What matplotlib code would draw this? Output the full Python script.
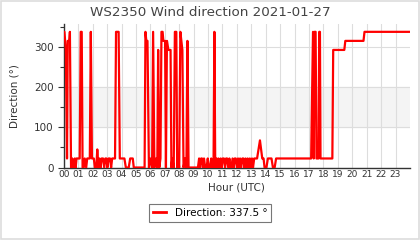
import matplotlib
matplotlib.use("Agg")
import matplotlib.pyplot as plt
from matplotlib.lines import Line2D
from matplotlib.patches import Rectangle

title = "WS2350 Wind direction 2021-01-27"
ylabel = "Direction (°)"
xlabel = "Hour (UTC)"
legend_label = "Direction: 337.5 °"
hour_labels = ["%02d" % h for h in range(24)]

hours = [
    0.00, 0.04, 0.14, 0.22, 0.27, 0.38, 0.42, 0.50, 0.58, 0.63, 0.70, 0.76, 0.82, 0.88, 0.96, 1.02,
    1.10, 1.17, 1.24, 1.30, 1.38, 1.45, 1.55, 1.62, 1.72, 1.80, 1.87, 1.95, 2.00,
    2.08, 2.15, 2.25, 2.32, 2.40, 2.47, 2.55, 2.62, 2.72, 2.80, 2.88, 2.95, 3.02, 3.10, 3.20,
    3.28, 3.35, 3.45, 3.55,
    3.62, 3.80, 3.88, 4.20, 4.30, 4.50, 4.60, 4.78, 4.85, 5.60,
    5.66, 5.72, 5.80, 5.90, 6.00, 6.12, 6.19, 6.28, 6.40, 6.48, 6.54, 6.62, 6.70, 6.77, 6.85,
    6.90, 7.02, 7.08, 7.15, 7.25, 7.40, 7.46, 7.52, 7.62, 7.70, 7.80, 7.86, 7.92, 8.00, 8.08,
    8.15, 8.22, 8.30, 8.40, 8.50, 8.57, 8.65, 9.20,
    9.30, 9.38, 9.45, 9.52, 9.58, 9.65, 9.72, 9.80, 9.90, 9.98, 10.05, 10.15, 10.22, 10.30,
    10.38, 10.44, 10.50, 10.58, 10.65, 10.72, 10.80, 10.88, 10.95, 11.02, 11.10, 11.18, 11.25,
    11.32, 11.40, 11.48, 11.55, 11.62, 11.70, 11.78, 11.85, 11.92, 12.00, 12.08, 12.15, 12.22,
    12.30, 12.38, 12.45, 12.52, 12.60, 12.68, 12.75, 12.82, 12.90, 12.98, 13.05, 13.12, 13.20,
    13.30, 13.40, 13.50, 13.60, 13.68, 13.76, 13.85, 13.92, 14.05, 14.15, 14.40, 14.50, 14.62,
    14.72, 14.82,
    17.15, 17.28, 17.33, 17.38, 17.46, 17.52, 17.66, 17.71, 17.76, 17.80, 18.62, 18.68, 19.45,
    19.52, 20.78, 20.85, 24.00,
]
directions = [
    337.5, 337.5, 292.5, 22.5, 315, 315, 337.5, 0, 22.5, 0, 0, 22.5, 0, 22.5, 22.5, 22.5,
    22.5, 337.5, 337.5, 0, 0, 22.5, 0, 22.5, 22.5, 22.5, 337.5, 22.5, 22.5,
    22.5, 0, 0, 45, 0, 22.5, 0, 22.5, 22.5, 0, 22.5, 22.5, 0, 22.5, 22.5,
    0, 22.5, 22.5, 22.5,
    337.5, 337.5, 22.5, 22.5, 0, 0, 22.5, 22.5, 0, 0,
    337.5, 315, 315, 0, 22.5, 0, 337.5, 0, 22.5, 0, 292.5, 0, 22.5, 337.5, 337.5,
    315, 315, 0, 315, 292.5, 292.5, 0, 22.5, 0, 337.5, 337.5, 0, 22.5, 0, 337.5,
    315, 292.5, 0, 22.5, 0, 315, 0, 0,
    0, 22.5, 0, 22.5, 22.5, 0, 22.5, 0, 0, 22.5, 0, 0, 22.5, 0,
    0, 337.5, 0, 22.5, 0, 22.5, 0, 22.5, 0, 22.5, 22.5, 0, 22.5,
    22.5, 0, 22.5, 0, 0, 22.5, 0, 22.5, 22.5, 0, 22.5, 0, 22.5,
    0, 22.5, 22.5, 0, 22.5, 0, 22.5, 0, 22.5, 0, 22.5, 0, 22.5,
    22.5, 22.5, 45, 67.5, 45, 22.5, 22.5, 0, 0, 22.5, 22.5, 0, 0,
    22.5, 22.5,
    22.5, 337.5, 22.5, 337.5, 337.5, 22.5, 22.5, 337.5, 337.5, 22.5, 22.5, 292.5, 292.5,
    315, 315, 337.5, 337.5,
]

fig = plt.figure(figsize=(4.2, 2.4), dpi=100)
fig.patches.append(Rectangle((0.002, 0.004), 0.995, 0.99, transform=fig.transFigure,
                             fill=False, edgecolor="#dddddd", linewidth=1.2))
ax = fig.add_axes([0.152, 0.302, 0.824, 0.598])

ax.axhspan(100, 200, color="#f4f4f4", zorder=0)
ax.plot(hours, directions, color="#ff0000", linewidth=1.6, zorder=3)

ax.set_xlim(0, 24)
ax.set_ylim(0, 357)
ax.set_xticks(range(24))
ax.set_xticklabels(hour_labels, fontsize=6.5, color="#333333")
ax.set_yticks([0, 100, 200, 300])
ax.set_yticks([50, 150, 250, 350], minor=True)
ax.tick_params(axis="y", labelsize=7.5, colors="#333333", length=4, width=0.8)
ax.tick_params(axis="y", which="minor", length=3, width=0.8, color="#333333")
ax.tick_params(axis="x", length=0, pad=2)
ax.grid(True, color="#dddddd", linewidth=0.8, zorder=1)
ax.set_axisbelow(True)
for s in ("top", "right"):
    ax.spines[s].set_visible(False)
for s in ("left", "bottom"):
    ax.spines[s].set_color("#333333")
    ax.spines[s].set_linewidth(1.0)

fig.text(0.5, 0.948, title, fontsize=9.7, color="#444444", ha="center", va="center")
ax.set_ylabel(ylabel, fontsize=7.5, color="#333333", labelpad=10)
ax.set_xlabel(xlabel, fontsize=7.5, color="#333333", labelpad=2)

handle = Line2D([], [], color="#ff0000", linewidth=2)
leg = fig.legend([handle], [legend_label], loc="center", bbox_to_anchor=(0.5, 0.113),
                 fontsize=7.5, frameon=True, fancybox=False, handlelength=1.3,
                 borderpad=0.35, handletextpad=0.8)
leg.get_frame().set_edgecolor("#555555")
leg.get_frame().set_linewidth(0.8)

fig.savefig("out.png", dpi=100)
